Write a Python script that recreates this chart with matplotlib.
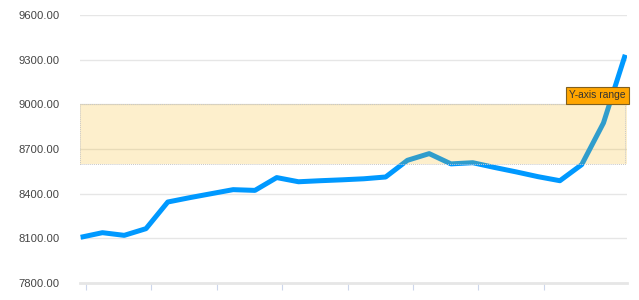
import matplotlib
matplotlib.use("Agg")
import matplotlib.pyplot as plt
from matplotlib.patches import Rectangle
import numpy as np

plt.rcParams['font.family'] = ['Liberation Sans', 'DejaVu Sans']

# data: one value per day
values = [8107, 8138, 8120, 8165, 8344, 8373, 8400, 8427, 8422, 8508,
          8480, 8487, 8493, 8500, 8512, 8624, 8669, 8600, 8608, 8576,
          8546, 8514, 8487, 8595, 8875, 9333]
tick_labels = ["13 Nov", "16 Nov", "19 Nov", "22 Nov", "25 Nov", "28 Nov", "Dec '17", "4 Dec"]
y_ticks = [7800, 8100, 8400, 8700, 9000, 9300, 9600]
band_from, band_to = 8600, 9000
band_label = "Y-axis range"

fig = plt.figure(figsize=(6.39, 3.0), dpi=100)
ax = fig.add_axes([80/639, 1-283/300, (627-80)/639, (283-15)/300])

x = np.arange(len(values))
ax.plot(x, values, color='#0099FF', lw=3.6, solid_joinstyle='round', solid_capstyle='butt', zorder=3)

ax.set_xlim(-0.03, 25.08)
ax.set_ylim(7800, 9600)

# plot band drawn over the line
ax.axhspan(band_from, band_to, facecolor='#F5B000', alpha=0.2, zorder=4, lw=0)
ax.add_patch(Rectangle((-0.03, band_from), 25.08 + 0.03 - 0.1, band_to - band_from,
                       fill=False, edgecolor='#C8C8C8', lw=0.7, ls=(0, (1, 1)), zorder=5))

ax.set_yticks(y_ticks)
ax.set_yticklabels([f"{v:.2f}" for v in y_ticks])
ax.yaxis.grid(True, color='#E6E6E6', lw=1.0, zorder=0)
ax.tick_params(axis='y', length=0, pad=14.5, labelsize=8.1, labelcolor='#444444')

tick_pos = np.arange(len(tick_labels)) * 3 + 0.25
ax.set_xticks(tick_pos)
ax.set_xticklabels(tick_labels)
ax.tick_params(axis='x', length=5, width=0.8, color='#CCD6EB', pad=7.0, labelsize=8.1, labelcolor='#444444')

for s in ['top', 'right', 'left']:
    ax.spines[s].set_visible(False)
ax.spines['bottom'].set_color('#E6E6E6')
ax.spines['bottom'].set_linewidth(2.0)
ax.set_axisbelow(True)

fig.text(597.5/639, 1-95.5/300, band_label, ha='center', va='center', fontsize=7.4, color='#333333',
         bbox=dict(boxstyle='square,pad=0.3', facecolor='#FFA500', edgecolor='#806020', lw=0.8), zorder=10)

fig.savefig("out.png", dpi=100, facecolor='white')
